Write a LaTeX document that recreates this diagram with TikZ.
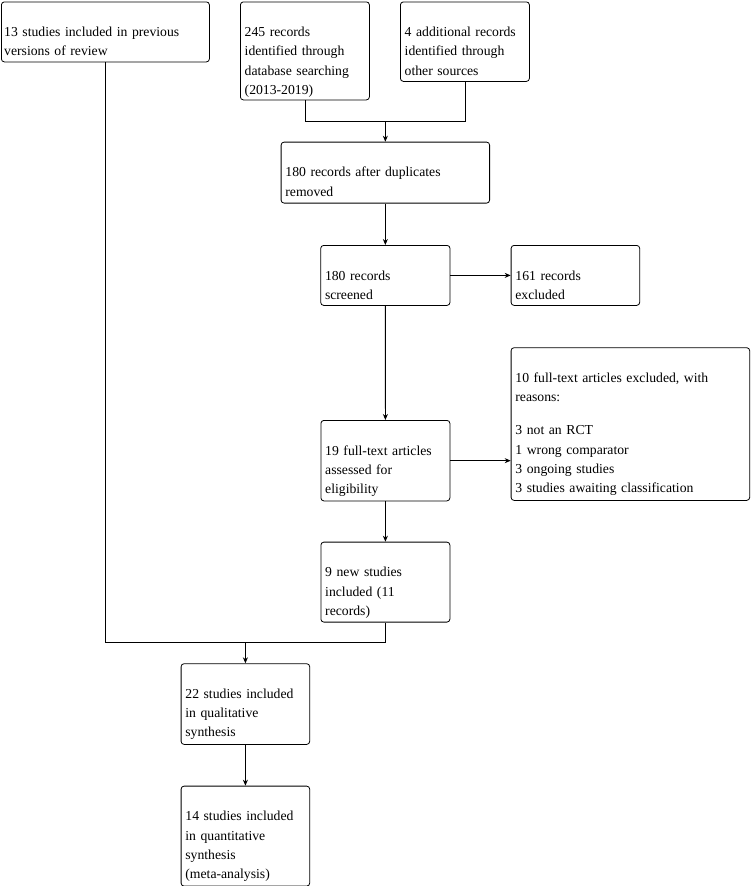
\documentclass[tikz,border=0pt]{standalone}
\usepackage{fontspec}
\setmainfont{Liberation Serif}
\usetikzlibrary{arrows.meta}
\begin{document}
\begin{tikzpicture}[x=1pt,y=-1pt,
  pbox/.style={draw, line width=0.8pt, rounded corners=3pt, inner sep=0pt, anchor=north west},
  txt/.style={inner sep=0pt, anchor=base west, align=left, text width=240pt,
    font=\fontsize{13.7}{19.3}\selectfont},
  arr/.style={line width=0.8pt, -{Stealth[length=6pt,width=5pt]}},
  ln/.style={line width=0.8pt}]
\useasboundingbox (0,0) rectangle (751,886);
% boxes
\node[pbox, minimum width=208pt, minimum height=60pt] (b1) at (1,1.5) {};
\node[pbox, minimum width=129pt, minimum height=98pt] (b2) at (240,1.5) {};
\node[pbox, minimum width=129pt, minimum height=79.5pt] (b3) at (400,1.5) {};
\node[pbox, minimum width=208.5pt, minimum height=61pt] (b4) at (280.7,141.7) {};
\node[pbox, minimum width=129.3pt, minimum height=60pt] (b5) at (320.3,245) {};
\node[pbox, minimum width=128.6pt, minimum height=60pt] (b6) at (510.7,245) {};
\node[pbox, minimum width=238.6pt, minimum height=152.7pt] (b7) at (510.7,347.3) {};
\node[pbox, minimum width=129pt, minimum height=80.5pt] (b8) at (320.5,420) {};
\node[pbox, minimum width=129pt, minimum height=80pt] (b9) at (320.5,541.7) {};
\node[pbox, minimum width=128.6pt, minimum height=80.7pt] (b10) at (180.7,663.3) {};
\node[pbox, minimum width=128.6pt, minimum height=100pt] (b11) at (180.7,785.7) {};
% texts
\node[txt] (t1) at ([xshift=3pt,yshift=-35pt]b1.north west) {13 studies included in previous\\versions of review};
\node[txt] (t2) at ([xshift=4.5pt,yshift=-35pt]b2.north west) {245 records\\identified through\\database searching\\(2013-2019)};
\node[txt] (t3) at ([xshift=4.5pt,yshift=-35pt]b3.north west) {4 additional records\\identified through\\other sources};
\node[txt] (t4) at ([xshift=4.5pt,yshift=-35pt]b4.north west) {180 records after duplicates\\removed};
\node[txt] (t5) at ([xshift=4.5pt,yshift=-35pt]b5.north west) {180 records\\screened};
\node[txt] (t6) at ([xshift=4.5pt,yshift=-35pt]b6.north west) {161 records\\excluded};
\node[txt] (t7) at ([xshift=4.5pt,yshift=-35pt]b7.north west) {10 full-text articles excluded, with\\reasons:\\[14pt]3 not an RCT\\1 wrong comparator\\3 ongoing studies\\3 studies awaiting classification};
\node[txt] (t8) at ([xshift=4.5pt,yshift=-35pt]b8.north west) {19 full-text articles\\assessed for\\eligibility};
\node[txt] (t9) at ([xshift=4.5pt,yshift=-35pt]b9.north west) {9 new studies\\included (11\\records)};
\node[txt] (t10) at ([xshift=4.5pt,yshift=-35pt]b10.north west) {22 studies included\\in qualitative\\synthesis};
\node[txt] (t11) at ([xshift=4.5pt,yshift=-35pt]b11.north west) {14 studies included\\in quantitative\\synthesis\\(meta-analysis)};
% connectors
\path (b4.north) ++(0,-20) coordinate (j1);
\path (b10.north) ++(0,-20.6) coordinate (j2);
\draw[ln] (b2.south) -- (b2.south |- j1) -- (b3.south |- j1) -- (b3.south);
\draw[arr] (j1) -- (b4.north);
\draw[arr] (b4.south) -- (b5.north);
\draw[arr] (b5.east) -- (b6.west);
\draw[arr] (b5.south) -- (b8.north);
\draw[arr] (b8.east) -- (b8.east -| b7.west);
\draw[arr] (b8.south) -- (b9.north);
\draw[ln] (b1.south) |- (b9.south |- j2) -- (b9.south);
\draw[arr] (j2) -- (b10.north);
\draw[arr] (b10.south) -- (b11.north);
\end{tikzpicture}
\end{document}
